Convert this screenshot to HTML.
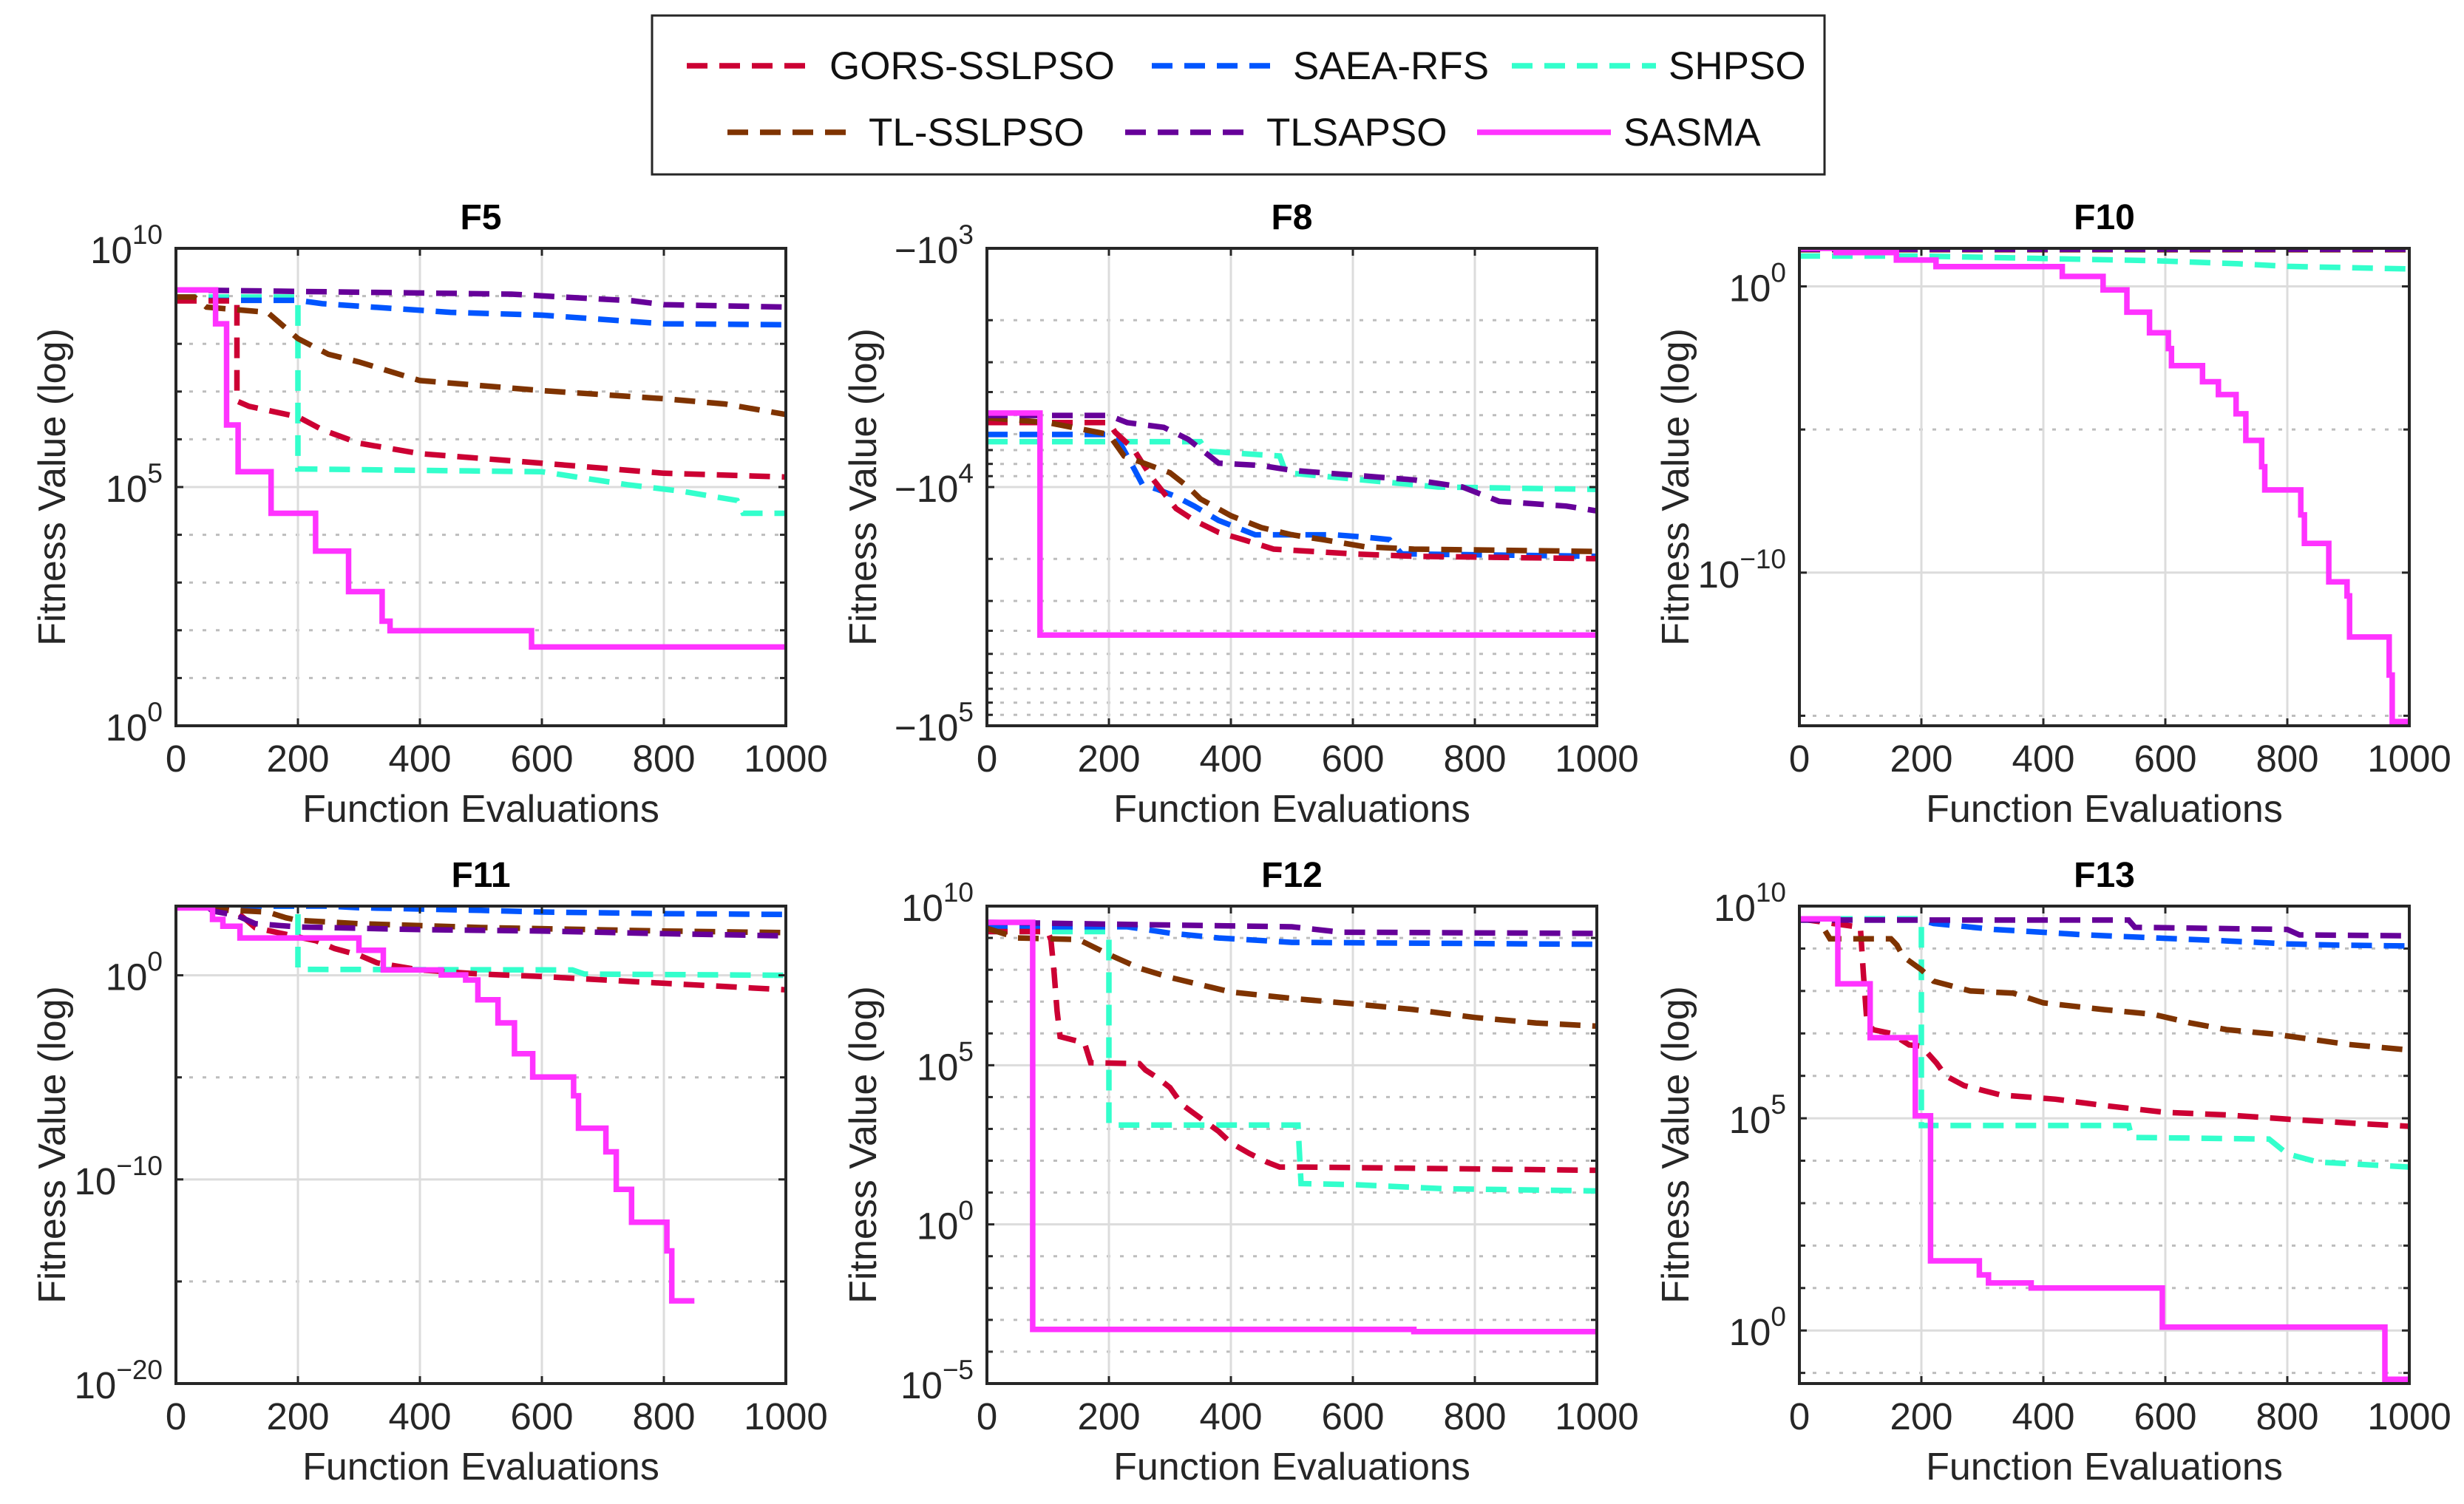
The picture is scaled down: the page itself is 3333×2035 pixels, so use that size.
<!DOCTYPE html>
<html><head><meta charset="utf-8">
<style>
html,body{margin:0;padding:0;background:#fff;}
svg{display:block;font-family:"Liberation Sans",Arial,sans-serif;}
</style></head>
<body>
<svg id="fig" xmlns="http://www.w3.org/2000/svg" width="3333" height="2035" viewBox="0 0 3333 2035">
<rect x="0" y="0" width="3333" height="2035" fill="#fff"/>
<g>
<rect x="882" y="21" width="1586" height="215" fill="#fff" stroke="#262626" stroke-width="3"/>
<g><line x1="929" y1="89" x2="1105" y2="89" stroke="#cc0033" stroke-width="7.5" stroke-dasharray="28,16"/><text x="1122" y="107" font-size="53" fill="#111">GORS-SSLPSO</text></g>
<g><line x1="1558" y1="89" x2="1733" y2="89" stroke="#0055ff" stroke-width="7.5" stroke-dasharray="28,16"/><text x="1749" y="107" font-size="53" fill="#111">SAEA-RFS</text></g>
<g><line x1="2045" y1="89" x2="2240" y2="89" stroke="#33ffcc" stroke-width="7.5" stroke-dasharray="28,16"/><text x="2257" y="107" font-size="53" fill="#111">SHPSO</text></g>
<g><line x1="984" y1="179" x2="1158" y2="179" stroke="#7f3300" stroke-width="7.5" stroke-dasharray="28,16"/><text x="1175" y="197" font-size="53" fill="#111">TL-SSLPSO</text></g>
<g><line x1="1522" y1="179" x2="1696" y2="179" stroke="#660099" stroke-width="7.5" stroke-dasharray="28,16"/><text x="1713" y="197" font-size="53" fill="#111">TLSAPSO</text></g>
<g><line x1="1998" y1="179" x2="2179" y2="179" stroke="#ff33ff" stroke-width="7.5"/><text x="2196" y="197" font-size="53" fill="#111">SASMA</text></g>
</g>
</svg>
<script>
// x values (function evaluations) and log10 fitness values per series
// SASMA series are step functions: x = start of each level, y = level
// ---- F5 ----
const f5_gors_x=[0,100,100,120,200,240,300,400,600,800,1000];
const f5_gors_y=[8.9,8.9,6.8,6.69,6.47,6.2,5.92,5.7,5.5,5.29,5.21];
const f5_saea_x=[0,200,240,450,600,800,1000];
const f5_saea_y=[8.91,8.91,8.84,8.66,8.6,8.42,8.4];
const f5_shpso_x=[0,200,200,600,740,830,920,930,1000];
const f5_shpso_y=[8.98,8.98,5.38,5.32,5.05,4.91,4.72,4.45,4.45];
const f5_tl_x=[0,30,50,150,200,250,300,400,600,800,900,1000];
const f5_tl_y=[8.98,8.98,8.77,8.66,8.11,7.78,7.62,7.23,7.02,6.85,6.74,6.52];
const f5_tlsa_x=[0,550,750,800,1000];
const f5_tlsa_y=[9.13,9.04,8.9,8.82,8.77];
const f5_sasma_x=[0,65,83,102,156,229,283,338,351,583,1000];
const f5_sasma_y=[9.13,8.42,6.3,5.32,4.45,3.66,2.81,2.19,1.99,1.65,1.65];
// ---- F8 (log10 of -f) ----
const f8_gors_x=[0,200,210,240,270,310,340,380,420,470,600,700,1000];
const f8_gors_y=[3.73,3.73,3.77,3.84,3.96,4.09,4.14,4.19,4.22,4.26,4.28,4.29,4.30];
const f8_saea_x=[0,200,215,230,255,280,310,340,380,440,570,620,660,680,1000];
const f8_saea_y=[3.78,3.78,3.8,3.87,3.99,4.01,4.04,4.08,4.14,4.2,4.2,4.21,4.22,4.28,4.29];
const f8_shpso_x=[0,350,360,480,490,740,1000];
const f8_shpso_y=[3.81,3.81,3.85,3.87,3.94,4.0,4.01];
const f8_tl_x=[0,100,200,225,300,330,350,400,450,500,550,620,700,1000];
const f8_tl_y=[3.71,3.73,3.78,3.87,3.94,4.0,4.05,4.12,4.17,4.2,4.22,4.25,4.26,4.27];
const f8_tlsa_x=[0,200,230,290,330,380,450,500,650,700,780,840,950,1000];
const f8_tlsa_y=[3.70,3.70,3.73,3.75,3.80,3.90,3.91,3.93,3.96,3.97,4.0,4.06,4.08,4.10];
const f8_sasma_x=[0,87,1000];
const f8_sasma_y=[3.69,4.62,4.62];
// ---- F10 ----
const f10_gors_x=[0,1000];
const f10_gors_y=[1.33,1.3];
const f10_saea_x=[0,1000];
const f10_saea_y=[1.33,1.32];
const f10_shpso_x=[0,200,580,720,800,1000];
const f10_shpso_y=[1.06,1.06,0.9,0.79,0.7,0.61];
const f10_tl_x=[0,1000];
const f10_tl_y=[1.28,1.28];
const f10_tlsa_x=[0,1000];
const f10_tlsa_y=[1.3,1.3];
const f10_sasma_x=[0,60,159,224,431,498,537,574,605,610,661,687,716,732,758,763,822,828,868,898,902,967,972,1000];
const f10_sasma_y=[1.33,1.18,0.92,0.69,0.35,-0.12,-0.9,-1.62,-2.17,-2.77,-3.33,-3.78,-4.45,-5.38,-6.3,-7.11,-7.98,-8.98,-10.32,-10.81,-12.25,-13.58,-15.2,-15.2];
// ---- F11 ----
const f11_gors_x=[0,50,100,130,200,230,260,300,330,400,500,600,800,1000];
const f11_gors_y=[3.39,3.39,3.1,2.33,1.88,1.69,1.31,0.99,0.61,0.26,0.06,-0.06,-0.39,-0.71];
const f11_saea_x=[0,250,300,500,600,800,1000];
const f11_saea_y=[3.39,3.39,3.31,3.18,3.1,3.02,2.98];
const f11_shpso_x=[0,200,200,650,670,1000];
const f11_shpso_y=[3.39,3.39,0.29,0.26,0.06,0];
const f11_tl_x=[0,50,70,150,180,200,300,500,800,1000];
const f11_tl_y=[3.39,3.39,3.22,3.1,2.82,2.69,2.53,2.34,2.17,2.09];
const f11_tlsa_x=[0,50,60,100,130,200,400,600,800,1000];
const f11_tlsa_y=[3.39,3.39,3.15,2.93,2.53,2.37,2.24,2.17,2.04,1.93];
const f11_sasma_x=[0,60,77,105,300,340,435,475,495,528,555,585,652,660,705,722,747,805,813,850];
const f11_sasma_y=[3.3,2.74,2.4,1.83,1.23,0.26,0.02,-0.23,-1.2,-2.33,-3.84,-4.98,-5.9,-7.49,-8.65,-10.49,-12.1,-13.5,-15.95,-15.95];
// ---- F12 ----
const f12_gors_x=[0,100,105,110,115,120,160,170,250,260,280,300,320,360,380,400,430,460,480,520,1000];
const f12_gors_y=[9.2,9.2,8.93,7.93,6.7,5.9,5.7,5.08,5.05,4.85,4.6,4.3,3.76,3.2,2.92,2.56,2.23,1.95,1.8,1.8,1.7];
const f12_saea_x=[0,230,300,380,500,1000];
const f12_saea_y=[9.35,9.35,9.15,9.0,8.86,8.8];
const f12_shpso_x=[0,200,200,510,515,600,750,1000];
const f12_shpso_y=[9.2,9.2,3.12,3.12,1.28,1.25,1.12,1.05];
const f12_tl_x=[0,50,150,200,250,300,370,400,500,600,700,800,900,1000];
const f12_tl_y=[9.3,9.0,8.95,8.48,8.05,7.76,7.44,7.3,7.1,6.93,6.75,6.5,6.33,6.23];
const f12_tlsa_x=[0,500,580,1000];
const f12_tlsa_y=[9.49,9.35,9.18,9.14];
const f12_sasma_x=[0,75,700,1000];
const f12_sasma_y=[9.49,-3.3,-3.37,-3.37];
// ---- F13 ----
const f13_gors_x=[0,100,105,110,120,150,180,200,225,240,270,330,420,500,600,700,800,900,1000];
const f13_gors_y=[9.7,9.5,8.4,7.4,7.09,7.0,6.73,6.7,6.3,6.0,5.77,5.55,5.45,5.3,5.14,5.08,4.98,4.89,4.81];
const f13_saea_x=[0,200,220,320,380,470,600,700,800,880,1000];
const f13_saea_y=[9.67,9.67,9.59,9.45,9.4,9.32,9.24,9.18,9.11,9.08,9.06];
const f13_shpso_x=[0,200,200,540,545,770,800,850,1000];
const f13_shpso_y=[9.7,9.7,4.83,4.83,4.55,4.51,4.16,3.97,3.85];
const f13_tl_x=[0,30,50,150,160,170,200,220,280,350,400,500,580,640,700,780,900,1000];
const f13_tl_y=[9.7,9.7,9.23,9.23,9.08,8.81,8.5,8.23,8.0,7.95,7.72,7.56,7.45,7.25,7.09,6.98,6.74,6.61];
const f13_tlsa_x=[0,540,550,800,820,1000];
const f13_tlsa_y=[9.67,9.67,9.5,9.45,9.32,9.3];
const f13_sasma_x=[0,63,116,190,215,295,310,380,595,960,1000];
const f13_sasma_y=[9.7,8.17,6.9,5.06,1.64,1.31,1.12,1.0,0.08,-1.15,-1.15];

const NS='http://www.w3.org/2000/svg';
const svg=document.getElementById('fig');
const COLORS={gors:'#cc0033',saea:'#0055ff',shpso:'#33ffcc',tl:'#7f3300',tlsa:'#660099',sasma:'#ff33ff'};
const NAMES={gors:'gors-sslpso',saea:'saea-rfs',shpso:'shpso',tl:'tl-sslpso',tlsa:'tlsapso',sasma:'sasma'};
function mk(tag,attrs,parent){const e=document.createElementNS(NS,tag);for(const k in attrs)e.setAttribute(k,attrs[k]);(parent||svg).appendChild(e);return e;}

const panels=[
 {id:'f5',title:'F5',L:238,T:336,yTop:10,yBot:0,major:[0,5,10],minor:[1,2,3,4,6,7,8,9],labels:[['10','0'],['10','5'],['10','10']],
  s:{gors:[f5_gors_x,f5_gors_y],saea:[f5_saea_x,f5_saea_y],shpso:[f5_shpso_x,f5_shpso_y],tl:[f5_tl_x,f5_tl_y],tlsa:[f5_tlsa_x,f5_tlsa_y],sasma:[f5_sasma_x,f5_sasma_y]}},
 {id:'f8',title:'F8',L:1335,T:336,yTop:3,yBot:5,major:[3,4,5],minor:[],labels:[['\u221210','3'],['\u221210','4'],['\u221210','5']],
  s:{gors:[f8_gors_x,f8_gors_y],saea:[f8_saea_x,f8_saea_y],shpso:[f8_shpso_x,f8_shpso_y],tl:[f8_tl_x,f8_tl_y],tlsa:[f8_tlsa_x,f8_tlsa_y],sasma:[f8_sasma_x,f8_sasma_y]}},
 {id:'f10',title:'F10',L:2434,T:336,yTop:1.33,yBot:-15.35,major:[0,-10],minor:[-5,-15],labels:[['10','0'],['10','\u221210']],
  s:{gors:[f10_gors_x,f10_gors_y],saea:[f10_saea_x,f10_saea_y],shpso:[f10_shpso_x,f10_shpso_y],tl:[f10_tl_x,f10_tl_y],tlsa:[f10_tlsa_x,f10_tlsa_y],sasma:[f10_sasma_x,f10_sasma_y]}},
 {id:'f11',title:'F11',L:238,T:1226,yTop:3.39,yBot:-20,major:[0,-10,-20],minor:[-5,-15],labels:[['10','0'],['10','\u221210'],['10','\u221220']],
  s:{gors:[f11_gors_x,f11_gors_y],saea:[f11_saea_x,f11_saea_y],shpso:[f11_shpso_x,f11_shpso_y],tl:[f11_tl_x,f11_tl_y],tlsa:[f11_tlsa_x,f11_tlsa_y],sasma:[f11_sasma_x,f11_sasma_y]}},
 {id:'f12',title:'F12',L:1335,T:1226,yTop:10,yBot:-5,major:[10,5,0,-5],minor:[9,8,7,6,4,3,2,1,-1,-2,-3,-4],labels:[['10','10'],['10','5'],['10','0'],['10','\u22125']],
  s:{gors:[f12_gors_x,f12_gors_y],saea:[f12_saea_x,f12_saea_y],shpso:[f12_shpso_x,f12_shpso_y],tl:[f12_tl_x,f12_tl_y],tlsa:[f12_tlsa_x,f12_tlsa_y],sasma:[f12_sasma_x,f12_sasma_y]}},
 {id:'f13',title:'F13',L:2434,T:1226,yTop:10,yBot:-1.25,major:[10,5,0],minor:[9,8,7,6,4,3,2,1,-1],labels:[['10','10'],['10','5'],['10','0']],
  s:{gors:[f13_gors_x,f13_gors_y],saea:[f13_saea_x,f13_saea_y],shpso:[f13_shpso_x,f13_shpso_y],tl:[f13_tl_x,f13_tl_y],tlsa:[f13_tlsa_x,f13_tlsa_y],sasma:[f13_sasma_x,f13_sasma_y]}}
];
const W=825,H=646,xTicks=[0,200,400,600,800,1000];

panels.forEach(p=>{
 const g=mk('g',{});
 
 
 const X=v=>p.L+v/1000*W;
 const Y=v=>p.T+(p.yTop-v)/(p.yTop-p.yBot)*H;
 let minors=[];
 if(p.id==='f8'){for(let d=3;d<5;d++)for(let m=2;m<=9;m++)minors.push(d+Math.log10(m));}
 else minors=p.minor;
 minors.forEach(v=>{const l=mk('line',{x1:p.L,x2:p.L+W,y1:Y(v),y2:Y(v),stroke:'#bdbdbd','stroke-width':3,'stroke-dasharray':'5,13'},g);
  
  mk('line',{x1:p.L,x2:p.L+8,y1:Y(v),y2:Y(v),stroke:'#262626','stroke-width':3},g);
  mk('line',{x1:p.L+W-8,x2:p.L+W,y1:Y(v),y2:Y(v),stroke:'#262626','stroke-width':3},g);});
 xTicks.forEach(v=>{const l=mk('line',{x1:X(v),x2:X(v),y1:p.T,y2:p.T+H,stroke:'#dcdcdc','stroke-width':3},g);
  });
 p.major.forEach(v=>{const l=mk('line',{x1:p.L,x2:p.L+W,y1:Y(v),y2:Y(v),stroke:'#dcdcdc','stroke-width':3},g);
  });
 const cp=mk('clipPath',{id:'clip-'+p.id},g);mk('rect',{x:p.L,y:p.T,width:W,height:H},cp);
 const sg=mk('g',{'clip-path':'url(#clip-'+p.id+')'},g);
 ['shpso','saea','gors','tl','tlsa','sasma'].forEach(k=>{
  const xs=p.s[k][0],ys=p.s[k][1];
  let pts=[];
  if(k==='sasma'){
   for(let i=0;i<xs.length;i++){
    pts.push(X(xs[i]).toFixed(1)+','+Y(ys[i]).toFixed(1));
    if(i+1<xs.length)pts.push(X(xs[i+1]).toFixed(1)+','+Y(ys[i]).toFixed(1));
   }
  } else pts=xs.map((x,i)=>X(x).toFixed(1)+','+Y(ys[i]).toFixed(1));
  const pl=mk('polyline',{points:pts.join(' '),fill:'none',stroke:COLORS[k],'stroke-width':7.5,'stroke-linejoin':'miter'},sg);
  if(k!=='sasma')pl.setAttribute('stroke-dasharray','28,16');
  
  
 });
 xTicks.forEach(v=>{mk('line',{x1:X(v),x2:X(v),y1:p.T+H,y2:p.T+H-10,stroke:'#262626','stroke-width':3},g);
  mk('line',{x1:X(v),x2:X(v),y1:p.T,y2:p.T+10,stroke:'#262626','stroke-width':3},g);
  const t=mk('text',{x:X(v),y:p.T+H+62,'font-size':51,'text-anchor':'middle',fill:'#262626'},g);t.textContent=v;
  });
 p.major.forEach((v,i)=>{mk('line',{x1:p.L,x2:p.L+10,y1:Y(v),y2:Y(v),stroke:'#262626','stroke-width':3},g);
  mk('line',{x1:p.L+W-10,x2:p.L+W,y1:Y(v),y2:Y(v),stroke:'#262626','stroke-width':3},g);
  const t=mk('text',{x:p.L-18,y:Y(v)+20,'font-size':51,'text-anchor':'end',fill:'#262626'},g);
  const b=mk('tspan',{},t);b.textContent=p.labels[i][0];
  const s=mk('tspan',{dy:-26,'font-size':37},t);s.textContent=p.labels[i][1];
  });
 const bx=mk('rect',{x:p.L,y:p.T,width:W,height:H,fill:'none',stroke:'#262626','stroke-width':4},g);
 
 const tt=mk('text',{x:p.L+W/2,y:p.T-26,'font-size':48,'font-weight':'bold','text-anchor':'middle',fill:'#000'},g);tt.textContent=p.title;
 
 const xl=mk('text',{x:p.L+W/2,y:p.T+H+130,'font-size':52,'text-anchor':'middle',fill:'#262626'},g);xl.textContent='Function Evaluations';
 
 const cx=p.L-150,cy=p.T+H/2;
 const yl=mk('text',{x:cx,y:cy,'font-size':52,'text-anchor':'middle',fill:'#262626',transform:'rotate(-90 '+cx+' '+cy+')'},g);yl.textContent='Fitness Value (log)';
 
});
</script>
</body></html>
